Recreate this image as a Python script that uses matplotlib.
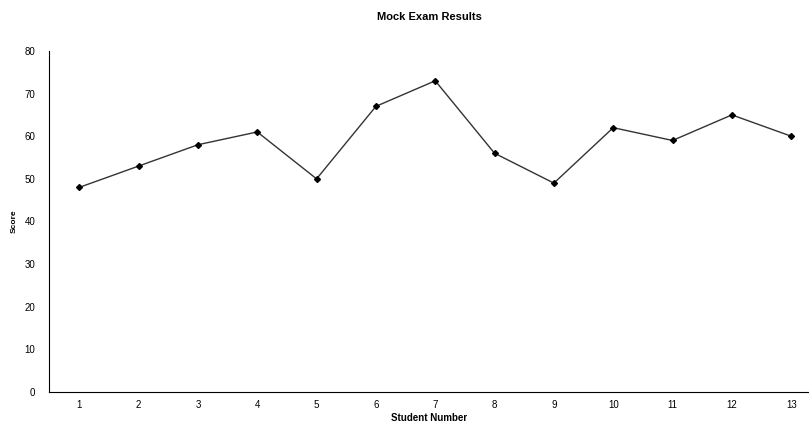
import matplotlib.pyplot as plt

# dati
studenti = [1, 2, 3, 4, 5, 6, 7, 8, 9, 10, 11, 12, 13]
punteggi = [48, 53, 58, 61, 50, 67, 73, 56, 49, 62, 59, 65, 60]
y_ticks = [0, 10, 20, 30, 40, 50, 60, 70, 80]

plt.rcParams['font.family'] = ['Liberation Sans', 'DejaVu Sans']

fig = plt.figure(figsize=(8.09, 4.28), dpi=100)
ax = fig.add_axes([0.0606, 0.084, 0.9394, 0.797])

ax.plot(studenti, punteggi, color='#333333', linewidth=1.0,
        marker='D', markersize=3, markerfacecolor='black', markeredgecolor='black')

ax.set_xlim(0.49, 13.3)
ax.set_ylim(0, 80)
ax.set_xticks(studenti)
ax.set_yticks(y_ticks)
ax.tick_params(axis='x', length=0, labelsize=7, pad=6)
ax.tick_params(axis='y', length=0, labelsize=7, pad=10)

for s in ['top', 'right']:
    ax.spines[s].set_visible(False)
ax.spines['left'].set_linewidth(0.8)
ax.spines['bottom'].set_linewidth(0.8)

ax.set_title('Mock Exam Results', fontsize=8, fontweight='bold', pad=22)
ax.set_xlabel('Student Number', fontsize=7, fontweight='bold', labelpad=2)
ax.set_ylabel('Score', fontsize=6, fontweight='bold', labelpad=5)

fig.savefig('out.png', dpi=100)
